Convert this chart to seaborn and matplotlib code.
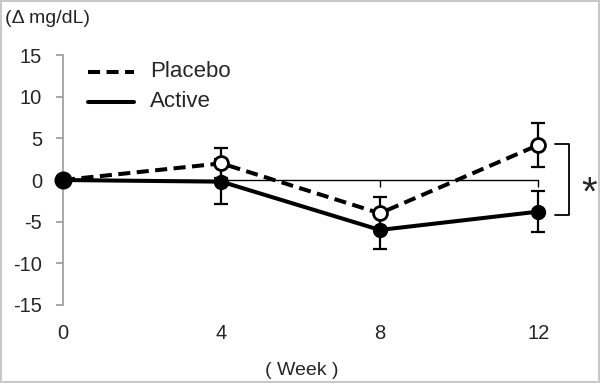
import matplotlib
matplotlib.use("Agg")
import matplotlib.pyplot as plt
from matplotlib.patches import Rectangle
import seaborn as sns
import pandas as pd

# data
weeks = [0, 4, 8, 12]
placebo_mean = [0.0, 2.0, -4.0, 4.2]
placebo_err = [0.0, 1.8, 2.0, 2.6]
active_mean = [0.0, -0.2, -6.0, -3.8]
active_err = [0.0, 2.7, 2.3, 2.5]
y_ticks = [-15, -10, -5, 0, 5, 10, 15]

df = pd.DataFrame({
    "week": weeks * 2,
    "change": placebo_mean + active_mean,
    "group": ["Placebo"] * 4 + ["Active"] * 4,
})

sns.set_style("white")
plt.rcParams["font.family"] = ["Liberation Sans", "DejaVu Sans"]
plt.rcParams["axes.unicode_minus"] = False

fig = plt.figure(figsize=(6.0, 3.83), dpi=100)
ax = fig.add_axes([0.105, 0.204, 0.792, 0.652])

# error bars first so lines sit on top
ax.errorbar(weeks[1:], active_mean[1:], yerr=active_err[1:], fmt="none",
            ecolor="black", elinewidth=1.6, capsize=5, capthick=1.6,
            clip_on=False, zorder=2)
ax.errorbar(weeks[1:], placebo_mean[1:], yerr=placebo_err[1:], fmt="none",
            ecolor="black", elinewidth=1.6, capsize=5, capthick=1.6,
            clip_on=False, zorder=2)

sns.lineplot(data=df, x="week", y="change", hue="group", style="group",
             palette={"Placebo": "black", "Active": "black"},
             dashes={"Placebo": (3, 1.6), "Active": ""},
             linewidth=2.9, legend=False, ax=ax, zorder=3)
for ln in ax.lines:
    ln.set_clip_on(False)

# markers
ax.plot(weeks[1:], placebo_mean[1:], "o", ms=10, mfc="white", mec="black",
        mew=2, clip_on=False, zorder=4)
ax.plot(weeks[1:], active_mean[1:], "o", ms=10, mfc="black", mec="black",
        clip_on=False, zorder=4)
ax.plot([weeks[0]], [active_mean[0]], "o", ms=12, color="black",
        clip_on=False, zorder=5)

ax.set_xlim(0, 12)
ax.set_ylim(-15, 15)
ax.set_yticks(y_ticks)
ax.set_xticks([4, 8, 12])
ax.set_xticklabels([])
ax.set_xlabel("")
ax.set_ylabel("")

for s in ["top", "right"]:
    ax.spines[s].set_visible(False)
ax.spines["left"].set_color("#999999")
ax.spines["left"].set_linewidth(1.2)
ax.spines["bottom"].set_position(("data", 0))
ax.spines["bottom"].set_color("black")
ax.spines["bottom"].set_linewidth(1.0)
ax.tick_params(axis="y", direction="out", length=5, width=1.2,
               color="#999999", labelsize=14.5, pad=10, left=True)
ax.tick_params(axis="x", direction="out", length=5, width=1.0,
               color="black", bottom=True)

# x tick labels at the bottom of the plot
for w in weeks:
    ax.text(w, -18.4, str(w), ha="center", va="center", fontsize=14.5)

fig.text(0.008, 0.952, "(Δ mg/dL)", ha="left", va="center", fontsize=14)
fig.text(0.503, 0.032, "( Week )", ha="center", va="center", fontsize=14)

# legend drawn by hand
ax.plot([0.63, 1.8], [13.0, 13.0], color="black", lw=2.9, dashes=(3, 1.6),
        clip_on=False)
ax.plot([0.63, 1.8], [9.4, 9.4], color="black", lw=2.9, clip_on=False)
ax.text(2.2, 13.0, "Placebo", va="center", fontsize=16)
ax.text(2.2, 9.4, "Active", va="center", fontsize=16)

# significance bracket
ax.plot([12.43, 12.78, 12.78, 12.43], [4.3, 4.3, -4.2, -4.2],
        color="black", lw=1.3, clip_on=False)
ax.text(13.28, -1.6, "*", ha="center", va="center", fontsize=29,
        clip_on=False)

fig.patches.append(Rectangle((0.002, 0.003), 0.996, 0.994,
                             transform=fig.transFigure, fill=False,
                             edgecolor="#c8c8c8", lw=1.5))

fig.savefig("out.png", dpi=100)
